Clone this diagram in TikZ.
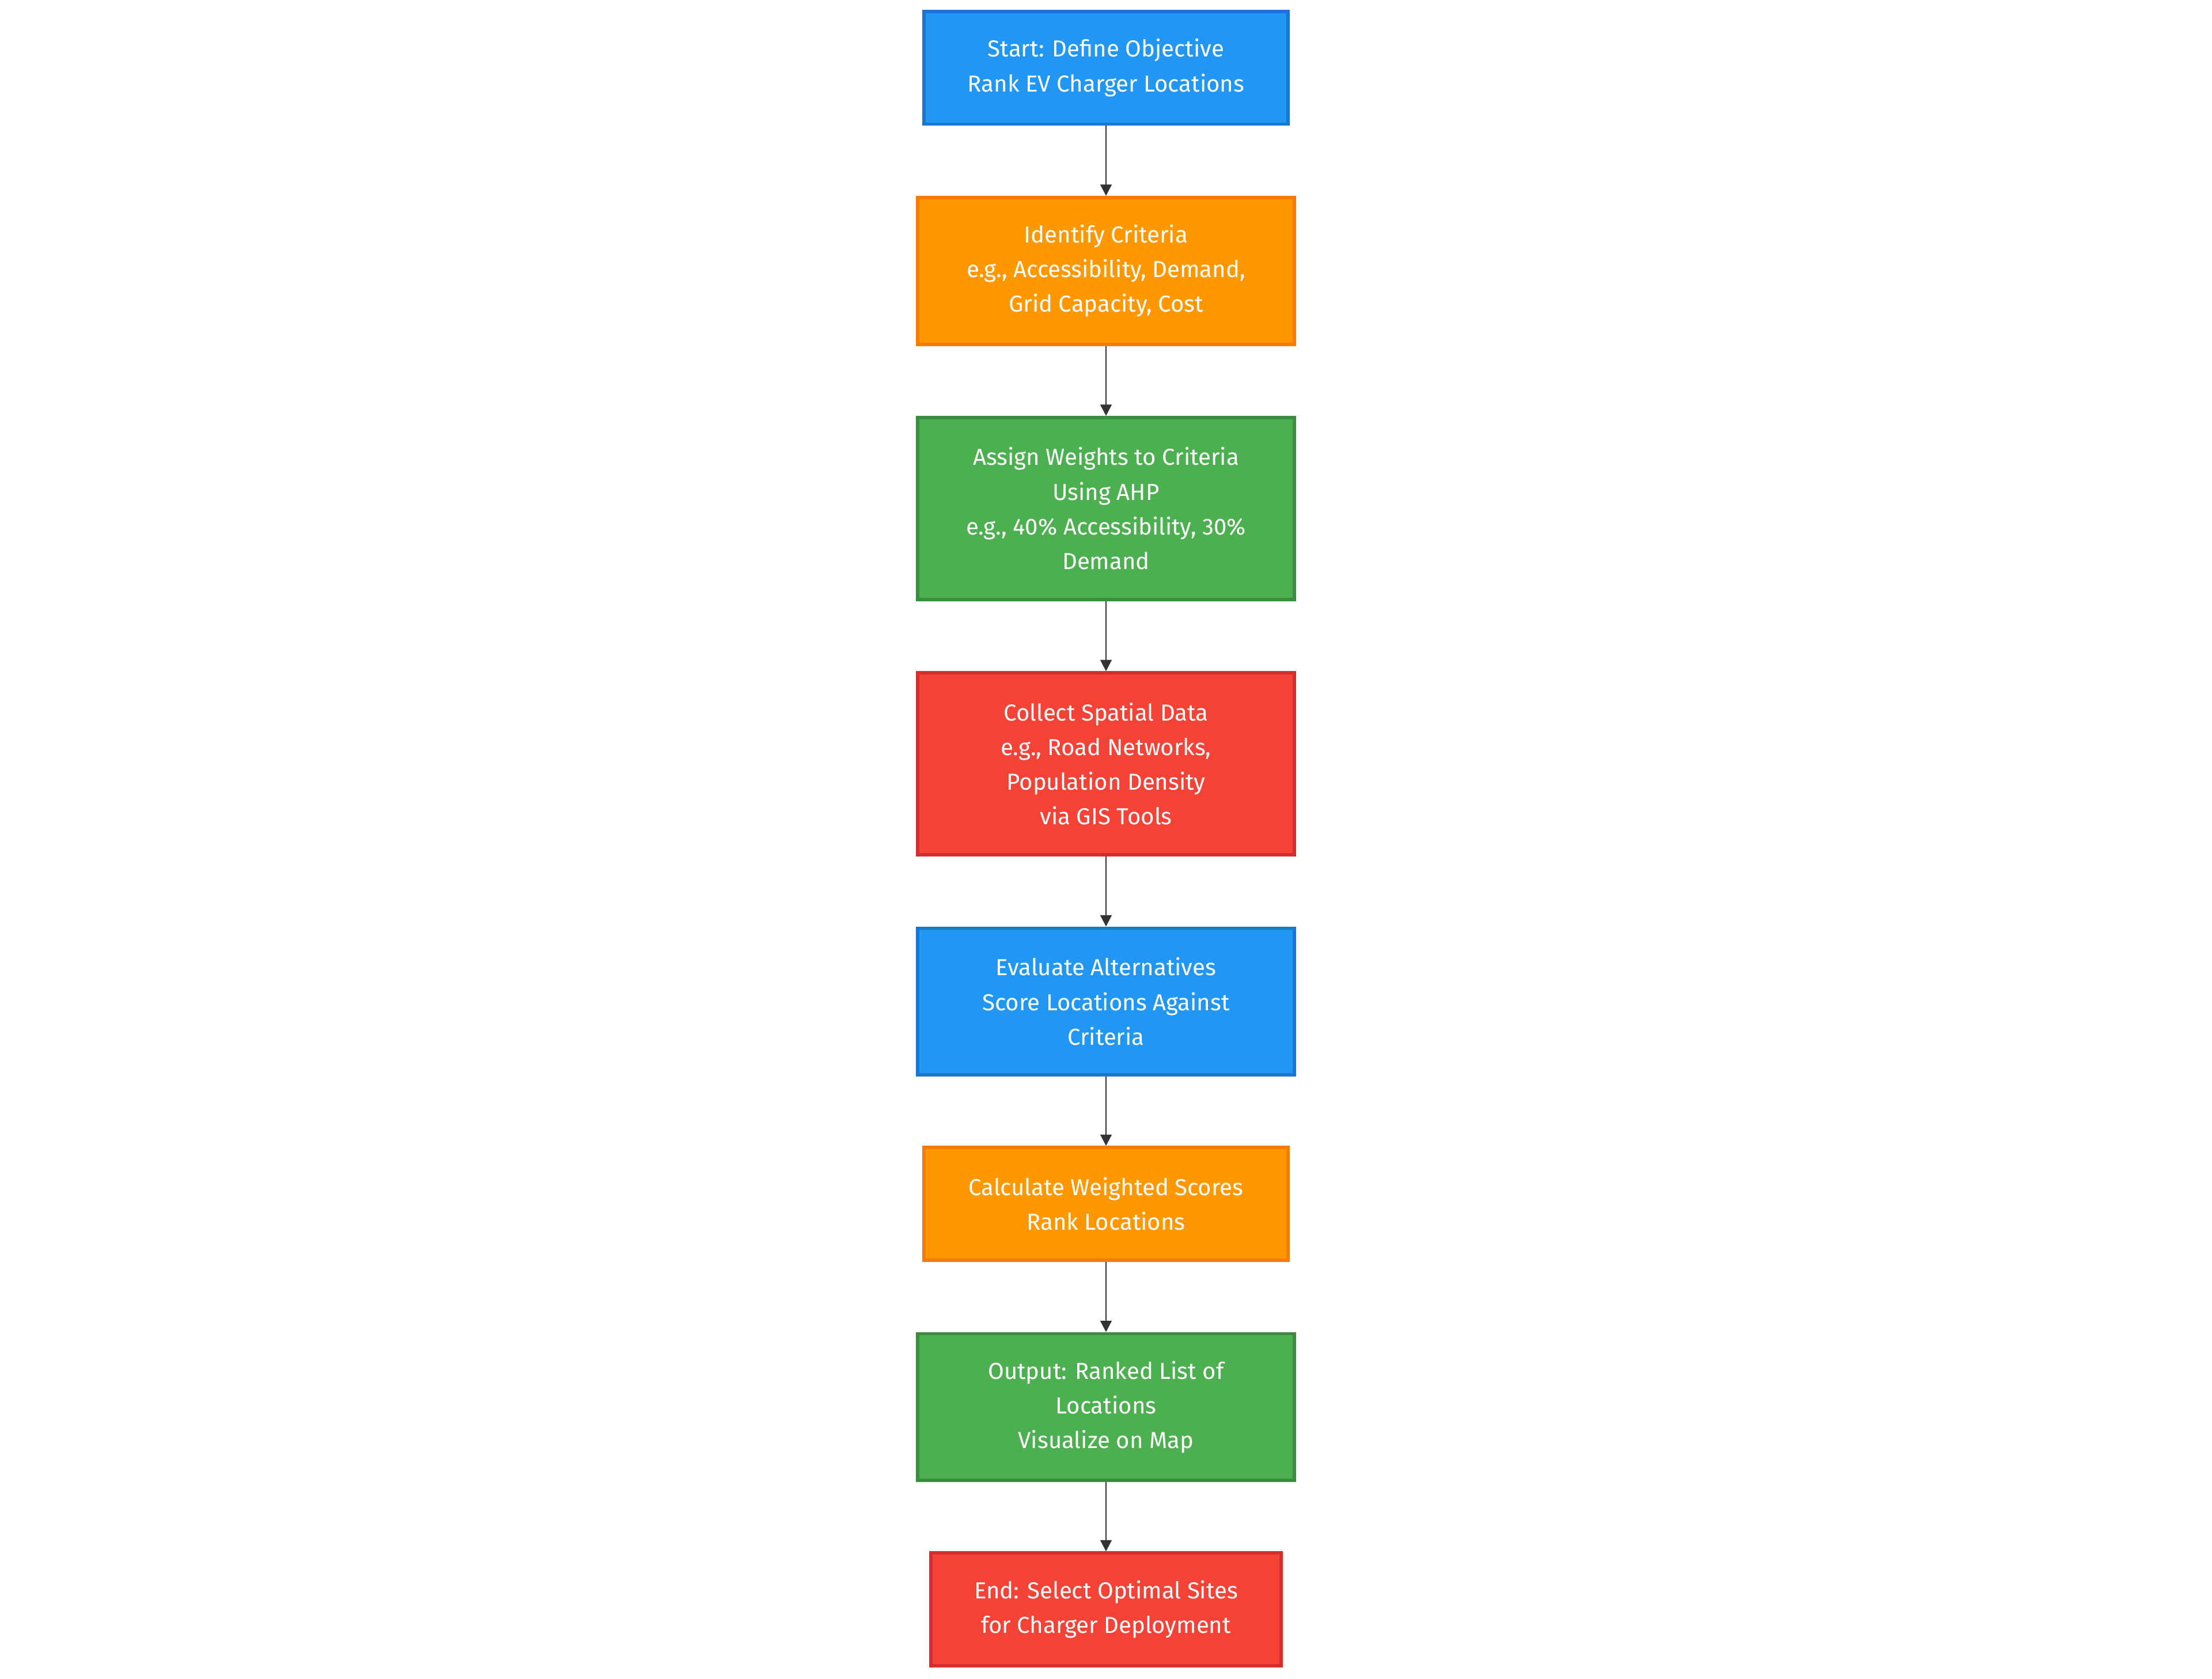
\documentclass[tikz,border=0pt]{standalone}
\usepackage{fontspec}
\setmainfont{Fira Sans}
\usetikzlibrary{arrows.meta}
\definecolor{cb}{HTML}{2196F3}\definecolor{cbd}{HTML}{1976D2}
\definecolor{co}{HTML}{FF9800}\definecolor{cod}{HTML}{F57C00}
\definecolor{cg}{HTML}{4CAF50}\definecolor{cgd}{HTML}{388E3C}
\definecolor{cr}{HTML}{F44336}\definecolor{crd}{HTML}{D32F2F}
\definecolor{ln}{HTML}{333333}
\tikzset{
 box/.style={draw, line width=1.2pt, text=white, align=center, font=\fontsize{8.2}{12.3}\selectfont, inner sep=0pt},
 bl/.style={box, fill=cb, draw=cbd}, og/.style={box, fill=co, draw=cod},
 gr/.style={box, fill=cg, draw=cgd}, rd/.style={box, fill=cr, draw=crd},
 conn/.style={draw=ln, line width=0.6pt, -{Triangle[length=4pt,width=4pt]}}
}
\begin{document}
\begin{tikzpicture}[x=0.5pt,y=-0.5pt]
\useasboundingbox (0,0) rectangle (1568,1190);
\node[bl, minimum width=129pt, minimum height=40pt] (a) at (784,48) {Start: Define Objective\\Rank EV Charger Locations};
\node[og, minimum width=133.5pt, minimum height=52pt] (b) at (784,192) {Identify Criteria\\e.g., Accessibility, Demand,\\Grid Capacity, Cost};
\node[gr, minimum width=133.5pt, minimum height=64.5pt] (c) at (784,360.5) {Assign Weights to Criteria\\Using AHP\\e.g., 40\% Accessibility, 30\%\\Demand};
\node[rd, minimum width=133.5pt, minimum height=64.5pt] (d) at (784,541.5) {Collect Spatial Data\\e.g., Road Networks,\\Population Density\\via GIS Tools};
\node[bl, minimum width=133.5pt, minimum height=52pt] (e) at (784,710) {Evaluate Alternatives\\Score Locations Against\\Criteria};
\node[og, minimum width=129pt, minimum height=40pt] (f) at (784,853.5) {Calculate Weighted Scores\\Rank Locations};
\node[gr, minimum width=133.5pt, minimum height=52pt] (g) at (784,997.5) {Output: Ranked List of\\Locations\\Visualize on Map};
\node[rd, minimum width=124pt, minimum height=40pt] (h) at (784,1141) {End: Select Optimal Sites\\for Charger Deployment};
\draw[conn] (a) -- (b);
\draw[conn] (b) -- (c);
\draw[conn] (c) -- (d);
\draw[conn] (d) -- (e);
\draw[conn] (e) -- (f);
\draw[conn] (f) -- (g);
\draw[conn] (g) -- (h);
\end{tikzpicture}
\end{document}
